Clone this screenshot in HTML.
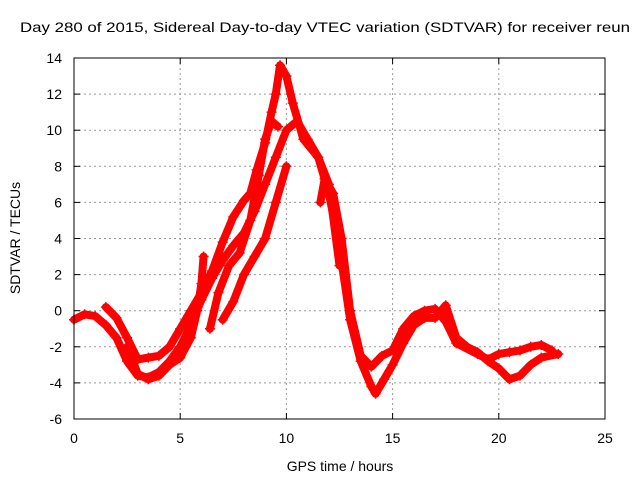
<!DOCTYPE html>
<html><head><meta charset="utf-8"><style>
body{margin:0;background:#fff;}
svg text{font-family:"Liberation Sans",sans-serif;font-size:14px;fill:#000;}
</style></head><body>
<svg id="chart" width="640" height="480" xmlns="http://www.w3.org/2000/svg">
<text x="20" y="32" textLength="610" lengthAdjust="spacingAndGlyphs">Day 280 of 2015, Sidereal Day-to-day VTEC variation (SDTVAR) for receiver reun</text>
<g id="grid"></g><g id="series"></g>
<rect x="74" y="58" width="531" height="361" fill="none" stroke="#000" stroke-width="1"/>
<g id="axes"></g>
<text x="340" y="471" text-anchor="middle">GPS time / hours</text>
<text transform="translate(20,238) rotate(-90)" text-anchor="middle">SDTVAR / TECUs</text>
</svg>
<script>
const xTicks=[0,5,10,15,20,25];
const yTicks=[-6,-4,-2,0,2,4,6,8,10,12,14];
const traceA=[[0,-0.5],[0.5,-0.2],[1,-0.3],[1.5,-0.8],[2,-1.5],[2.5,-2.8],[3,-3.6],[3.5,-3.7],[4,-3.4],[4.5,-2.8],[5,-2],[5.5,-0.8],[6,0.6],[6.5,1.8],[7,2.8],[7.5,3.6],[8,4.3],[8.5,5.5],[9,7],[9.5,8.5],[10,10],[10.5,10.5],[11,9.5],[11.5,8.5],[12,6.5],[12.5,3.5],[13,-0.5],[13.5,-2.8],[14,-4.2],[14.2,-4.6],[14.6,-3.8],[15,-3],[15.5,-1.8],[16,-0.8],[16.5,-0.4],[17,-0.4],[17.5,0.3],[18,-1.5],[18.5,-2],[19,-2.3],[19.5,-2.8],[20,-3.2],[20.5,-3.8],[21,-3.6],[21.5,-3],[22,-2.6],[22.8,-2.4]];
const traceB=[[1.5,0.2],[2,-0.4],[2.5,-1.5],[3,-2.7],[3.5,-2.6],[4,-2.5],[4.5,-2],[5,-1],[5.5,0],[6,1],[6.5,2.2],[7,3.8],[7.5,5.2],[8,6.1],[8.3,6.5],[8.6,7.8],[9,9.3],[9.3,11],[9.5,12],[9.7,13.6],[10,13],[10.3,11.5],[10.8,9.5],[11.5,8.5],[12,7],[12.5,2.5]];
const traceC=[[2.5,-2],[3,-3.5],[3.5,-3.8],[4,-3.6],[4.5,-3],[5,-2.6],[5.5,-1.5],[5.8,0],[6,1.5],[6.1,3]];
const traceD=[[6.4,-1],[6.8,1],[7.3,2.5],[7.8,3.2],[8.3,5],[8.7,7.5],[9,9.5],[9.3,10.5],[9.6,10.2]];
const traceE=[[11.6,6],[11.8,7.3],[12.2,6.5],[12.6,4],[13,0],[13.5,-2.5],[14,-3.1],[14.5,-2.5],[15,-2.2],[15.5,-1],[16,-0.3],[16.5,0],[17,0.1],[17.5,-0.6],[18,-1.8],[19,-2.4],[19.5,-2.7],[20,-2.4],[20.5,-2.3],[21,-2.2],[21.5,-2],[22,-1.9],[22.5,-2.2]];
const traceF=[[7,-0.5],[7.5,0.5],[8,2],[8.5,3],[9,4],[9.5,6],[10,8]];
const traces=[traceA,traceB,traceC,traceD,traceE,traceF];
const X=v=>74+v*531/25, Y=v=>419-(v+6)*361/20;
const NS="http://www.w3.org/2000/svg";
const grid=document.getElementById('grid'),axes=document.getElementById('axes'),ser=document.getElementById('series');
function mk(tag,attrs,parent){const e=document.createElementNS(NS,tag);for(const k in attrs)e.setAttribute(k,attrs[k]);parent.appendChild(e);return e;}
xTicks.forEach(t=>{
 if(t>0&&t<25){const l=mk('line',{x1:X(t),x2:X(t),y1:58,y2:419,stroke:'#999','stroke-dasharray':'2,3'},grid);
 
 }
 const tx=mk('text',{x:X(t),y:443,'text-anchor':'middle'},axes);tx.textContent=t;
 
 
 mk('line',{x1:X(t),x2:X(t),y1:419,y2:413,stroke:'#000'},axes);mk('line',{x1:X(t),x2:X(t),y1:58,y2:64,stroke:'#000'},axes);
});
yTicks.forEach(t=>{
 if(t>-6&&t<14){const l=mk('line',{x1:74,x2:605,y1:Y(t),y2:Y(t),stroke:'#999','stroke-dasharray':'2,3'},grid);
 
 }
 const tx=mk('text',{x:62,y:Y(t)+5,'text-anchor':'end'},axes);tx.textContent=t;
 
 
 mk('line',{x1:74,x2:80,y1:Y(t),y2:Y(t),stroke:'#000'},axes);mk('line',{x1:605,x2:599,y1:Y(t),y2:Y(t),stroke:'#000'},axes);
});
traces.forEach((tr,i)=>{
 const p=mk('polyline',{points:tr.map(d=>X(d[0])+','+Y(d[1])).join(' '),fill:'none',stroke:'#f00','stroke-width':8,'stroke-linejoin':'round','stroke-linecap':'round'},ser);
 
 
 tr.forEach(d=>{const x=X(d[0]),y=Y(d[1]);
  const m=mk('path',{d:`M${x-5},${y}H${x+5}M${x},${y-5}V${y+5}`,stroke:'#f00','stroke-width':1.5},ser);
  
  });
});
</script>
</body></html>
